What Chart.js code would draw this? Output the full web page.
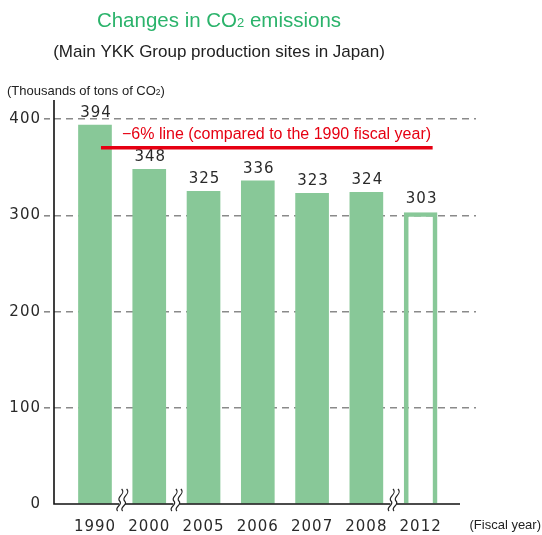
<!DOCTYPE html>
<html>
<head>
<meta charset="utf-8">
<script src="https://cdn.jsdelivr.net/npm/chart.js@4/dist/chart.umd.min.js"></script>
<style>
  html, body { margin: 0; padding: 0; background: #fff; }
  #wrap { position: relative; width: 542px; height: 535px; }
</style>
</head>
<body>
<div id="wrap"><canvas id="c"></canvas></div>
<script>
// ---- data ----
const years = ['1990', '2000', '2005', '2006', '2007', '2008', '2012'];
const emissions = [394, 348, 325, 336, 323, 324, 303];
const isTarget = [false, false, false, false, false, false, true];
const yTicks = [0, 100, 200, 300, 400];
const reductionRate = 0.06;
const titleText = 'Changes in CO';
const subtitleText = '(Main YKK Group production sites in Japan)';
const unitText = '(Thousands of tons of CO';
const xUnitText = '(Fiscal year)';
const targetText = '\u22126% line (compared to the 1990 fiscal year)';

const GREEN = '#88c898';
const TITLE_GREEN = '#2bb36b';
const RED = '#e60012';
const DIGIT_FONT = '"DejaVu Sans", sans-serif';
const TEXT_FONT = '"Liberation Sans", Arial, sans-serif';

function drawRich(ctx, parts, x, y, align) {
  let total = 0;
  parts.forEach(p => { ctx.font = p.size + 'px ' + TEXT_FONT; p.w = ctx.measureText(p.t).width; total += p.w; });
  let cx = align === 'center' ? x - total / 2 : x;
  ctx.textAlign = 'left';
  ctx.textBaseline = 'alphabetic';
  parts.forEach(p => { ctx.font = p.size + 'px ' + TEXT_FONT; ctx.fillText(p.t, cx, y + (p.dy || 0)); cx += p.w; });
}

function squiggle(ctx, cx, cy) {
  ctx.save();
  ctx.fillStyle = '#fff';
  ctx.fillRect(cx - 3, cy - 3, 6, 6);
  ctx.strokeStyle = '#222';
  ctx.lineWidth = 1.2;
  [-2.5, 2.5].forEach(off => {
    const x0 = cx + off;
    ctx.beginPath();
    ctx.moveTo(x0 + 2, cy - 15);
    ctx.bezierCurveTo(x0 + 7, cy - 10, x0 - 4, cy - 7, x0, cy - 3);
    ctx.bezierCurveTo(x0 + 4, cy + 1, x0 - 6, cy + 3, x0 - 2, cy + 7);
    ctx.stroke();
  });
  ctx.restore();
}

const overlay = {
  id: 'overlay',
  beforeDraw(chart) {
    chart.ctx.letterSpacing = '1px';
  },
  afterDraw(chart) {
    const { ctx, scales: { x, y }, chartArea } = chart;
    const y0 = y.getPixelForValue(0);
    ctx.save();
    ctx.letterSpacing = '0px';
    // axes
    ctx.strokeStyle = '#111';
    ctx.lineWidth = 1.6;
    ctx.beginPath();
    ctx.moveTo(chartArea.left, chartArea.top);
    ctx.lineTo(chartArea.left, y0);
    ctx.lineTo(chartArea.right - 16, y0);
    ctx.stroke();
    // axis breaks where years are not consecutive
    for (let i = 0; i < years.length - 1; i++) {
      if (+years[i + 1] - +years[i] > 1) squiggle(ctx, x.getPixelForValue(i + 0.5), y0);
    }
    // value labels
    const meta = chart.getDatasetMeta(0);
    ctx.fillStyle = '#2a2a2a';
    ctx.font = '15px ' + DIGIT_FONT;
    ctx.letterSpacing = '1px';
    ctx.textAlign = 'center';
    ctx.textBaseline = 'alphabetic';
    meta.data.forEach((el, i) => {
      ctx.fillText(String(emissions[i]), el.x + 1, el.y - (isTarget[i] ? 10 : 8));
    });
    ctx.letterSpacing = '0px';
    // target line (-6% of 1990)
    const ty = y.getPixelForValue(emissions[0] * (1 - reductionRate));
    ctx.strokeStyle = RED;
    ctx.lineWidth = 3.5;
    ctx.beginPath();
    ctx.moveTo(x.getPixelForValue(0) + 6, ty);
    ctx.lineTo(x.getPixelForValue(years.length - 1) + 12, ty);
    ctx.stroke();
    ctx.fillStyle = RED;
    ctx.font = '16px ' + TEXT_FONT;
    ctx.textAlign = 'left';
    ctx.fillText(targetText, x.getPixelForValue(0) + 27, ty - 9);
    // titles
    ctx.fillStyle = TITLE_GREEN;
    drawRich(ctx, [{ t: titleText, size: 20.5 }, { t: '2', size: 13 }, { t: ' emissions', size: 20.5 }], 219, 27, 'center');
    ctx.fillStyle = '#222';
    drawRich(ctx, [{ t: subtitleText, size: 17 }], 219, 57, 'center');
    drawRich(ctx, [{ t: unitText, size: 13 }, { t: '2', size: 8.5 }, { t: ')', size: 13 }], 7, 95, 'left');
    ctx.font = '13px ' + TEXT_FONT;
    ctx.textAlign = 'right';
    ctx.fillText(xUnitText, 541, 529);
    ctx.restore();
  }
};

const gridColor = (c) => (c.tick && c.tick.value === 0) ? 'rgba(0,0,0,0)' : '#8a8a8a';

new Chart(document.getElementById('c'), {
  type: 'bar',
  data: {
    datasets: [{
      data: emissions.map((v, i) => ({ x: i, y: v })),
      backgroundColor: isTarget.map(t => t ? 'rgba(255,255,255,0)' : GREEN),
      borderColor: GREEN,
      borderWidth: isTarget.map(t => t ? 4 : 0),
      borderSkipped: 'bottom',
      barThickness: 33
    }]
  },
  options: {
    responsive: true,
    maintainAspectRatio: false,
    devicePixelRatio: 1,
    animation: false,
    layout: { padding: { top: 100, right: 66, left: 0, bottom: 0 } },
    plugins: { legend: { display: false }, tooltip: { enabled: false }, title: { display: false } },
    scales: {
      x: {
        type: 'linear',
        offset: false,
        min: -0.755,
        max: 7.02,
        grid: { display: false, offset: false },
        border: { display: false },
        afterBuildTicks: (s) => { s.ticks = years.map((_, i) => ({ value: i })); },
        afterFit: (s) => { s.height = 31; },
        ticks: {
          autoSkip: false,
          maxRotation: 0,
          padding: 6,
          color: '#2a2a2a',
          font: { family: DIGIT_FONT, size: 15 },
          callback: (v) => years[v]
        }
      },
      y: {
        min: 0,
        max: 420,
        afterBuildTicks: (s) => { s.ticks = yTicks.map(v => ({ value: v })); },
        afterFit: (s) => { s.width = 54; },
        grid: {
          color: gridColor,
          tickColor: gridColor,
          lineWidth: 1.6,
          tickLength: 10,
          tickBorderDash: [6, 4]
        },
        border: { display: false, dash: [7, 5] },
        ticks: {
          padding: 3,
          color: '#2a2a2a',
          font: { family: DIGIT_FONT, size: 15 },
          callback: (v) => String(v)
        }
      }
    }
  },
  plugins: [overlay]
});
</script>
</body>
</html>
